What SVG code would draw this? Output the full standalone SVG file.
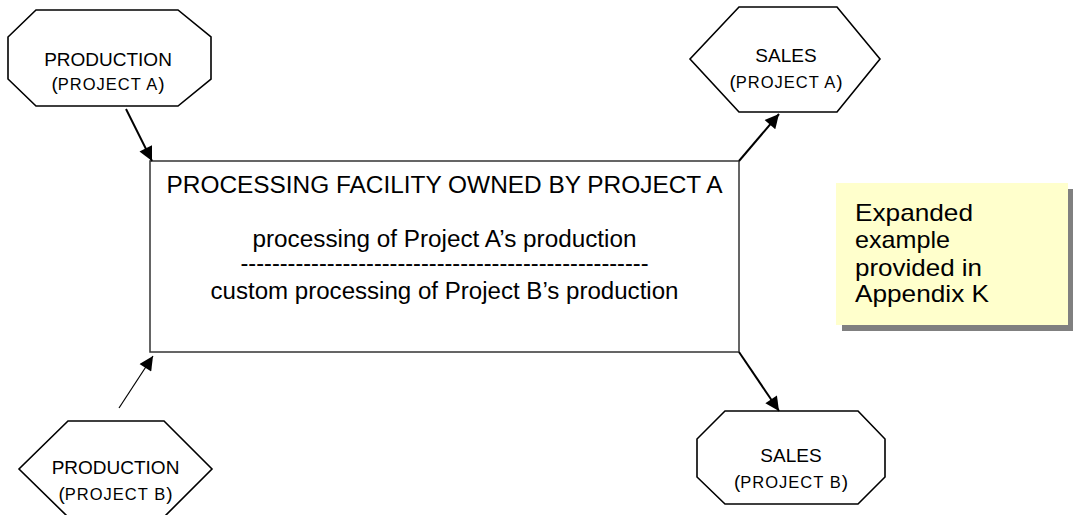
<svg xmlns="http://www.w3.org/2000/svg" width="1073" height="515" viewBox="0 0 1073 515">
  <style>
    .shape { fill: #ffffff; stroke: #000000; stroke-width: 1.6; }
    .box { fill: #ffffff; stroke: #333333; stroke-width: 1.5; }
    .lbl { font-family: "Liberation Sans", Arial, sans-serif; font-size: 19px; fill: #000000; text-anchor: middle; }
    .sc { font-size: 16.5px; letter-spacing: 1px; }
    .body { font-family: "Liberation Sans", Arial, sans-serif; font-size: 23px; fill: #000000; text-anchor: middle; }
    .note { font-family: "Liberation Sans", Arial, sans-serif; font-size: 24px; fill: #000000; }
    .conn { stroke: #000000; stroke-width: 2; fill: none; marker-end: url(#arrow); }
    .thin { stroke-width: 1.2; }
  </style>
  <defs>
    <marker id="arrow" viewBox="0 0 10 10" refX="10" refY="5" markerUnits="userSpaceOnUse" markerWidth="17" markerHeight="14" orient="auto">
      <path d="M0,0 L10,5 L0,10 z" fill="#000000"/>
    </marker>
  </defs>

  <!-- central processing facility -->
  <g id="facility">
    <rect class="box" x="150" y="161" width="589" height="191"/>
    <text class="body" x="444.5" y="193" textLength="556" lengthAdjust="spacingAndGlyphs">PROCESSING FACILITY OWNED BY PROJECT A</text>
    <text class="body" x="444.5" y="247" textLength="384" lengthAdjust="spacingAndGlyphs">processing of Project A’s production</text>
    <text class="body" x="444.5" y="271" textLength="408" lengthAdjust="spacingAndGlyphs">----------------------------------------------------</text>
    <text class="body" x="444.5" y="299" textLength="468" lengthAdjust="spacingAndGlyphs">custom processing of Project B’s production</text>
  </g>

  <!-- upstream production, project A -->
  <g id="production-a">
    <polygon class="shape" points="36,10 178,10 211,37 211,79 178,106 36,106 8,79 8,37"/>
    <text class="lbl" x="108" y="66">PRODUCTION</text>
    <text class="lbl" x="108" y="90">(<tspan class="sc">PROJECT A</tspan>)</text>
  </g>

  <!-- upstream production, project B -->
  <g id="production-b">
    <polygon class="shape" points="68,421 164,421 212,469 164,517 68,517 19,469"/>
    <text class="lbl" x="115.5" y="474">PRODUCTION</text>
    <text class="lbl" x="115.5" y="500">(<tspan class="sc">PROJECT B</tspan>)</text>
  </g>

  <!-- downstream sales, project A -->
  <g id="sales-a">
    <polygon class="shape" points="739,7 837,7 880,59 837,112 739,112 690,59"/>
    <text class="lbl" x="786" y="62">SALES</text>
    <text class="lbl" x="786" y="88">(<tspan class="sc">PROJECT A</tspan>)</text>
  </g>

  <!-- downstream sales, project B -->
  <g id="sales-b">
    <polygon class="shape" points="725,411 858,411 885,439 885,477 858,504 725,504 697,477 697,439"/>
    <text class="lbl" x="791" y="462">SALES</text>
    <text class="lbl" x="791" y="488">(<tspan class="sc">PROJECT B</tspan>)</text>
  </g>

  <!-- side note -->
  <g id="note">
    <rect x="842" y="189" width="231" height="142" fill="#808080"/>
    <rect x="836" y="183" width="232" height="142" fill="#ffffcc"/>
    <text class="note" x="855" y="221" textLength="118" lengthAdjust="spacingAndGlyphs">Expanded</text>
    <text class="note" x="855" y="248" textLength="95" lengthAdjust="spacingAndGlyphs">example</text>
    <text class="note" x="855" y="276" textLength="127" lengthAdjust="spacingAndGlyphs">provided in</text>
    <text class="note" x="855" y="302" textLength="134" lengthAdjust="spacingAndGlyphs">Appendix K</text>
  </g>

  <!-- flows between nodes -->
  <g id="connectors">
    <line class="conn" x1="126" y1="109" x2="152" y2="161"/>
    <line class="conn" x1="739" y1="161" x2="779" y2="114"/>
    <line class="conn thin" x1="119" y1="408" x2="153" y2="356"/>
    <line class="conn" x1="739" y1="352" x2="779" y2="411"/>
  </g>
</svg>
